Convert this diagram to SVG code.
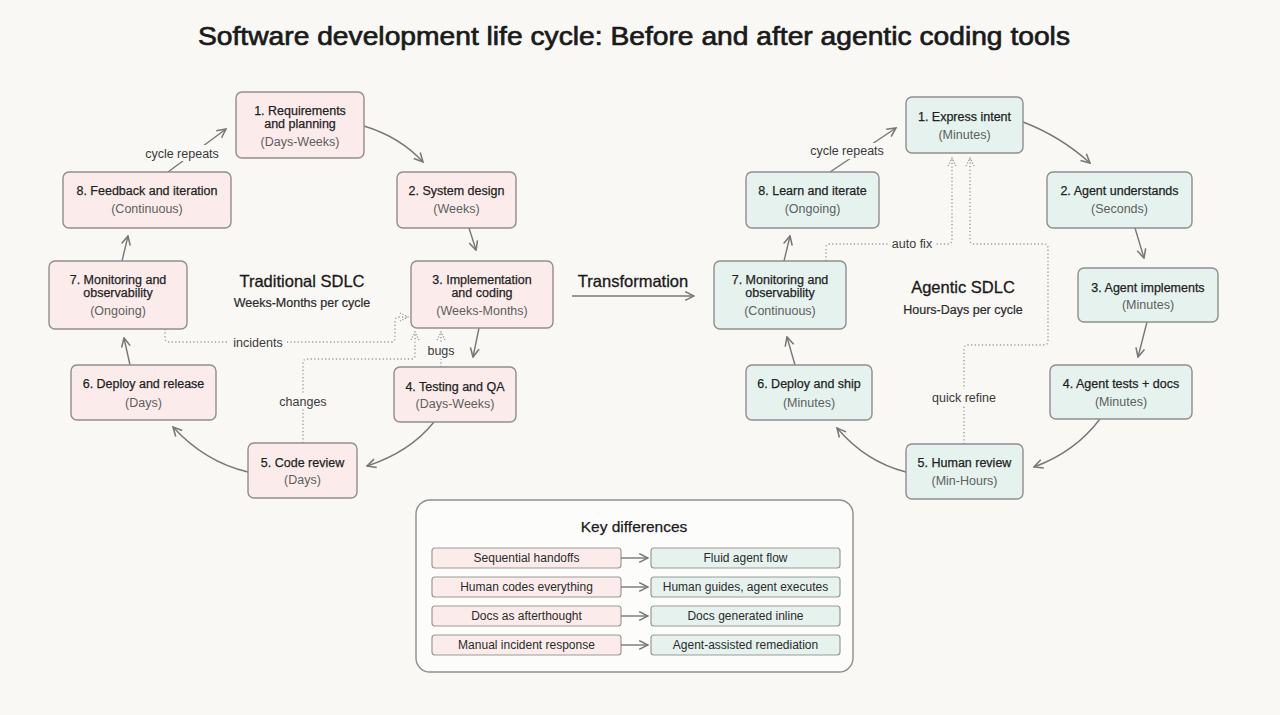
<svg xmlns="http://www.w3.org/2000/svg" width="1280" height="715" viewBox="0 0 1280 715">
<defs>
<style>
text{font-family:"Liberation Sans",Arial,sans-serif;fill:#1f1f1f;text-anchor:middle}
.title{font-size:26px;fill:#1a1a1a;stroke:#1a1a1a;stroke-width:0.7}
.nt{font-size:12.5px;fill:#1f1f1f;stroke:#1f1f1f;stroke-width:0.25}
.ns{font-size:12.5px;fill:#5e5e5e}
.lt{fill:#fbeceb;stroke:#8e8e8e;stroke-width:1.4}
.rt{fill:#e5f2ee;stroke:#8e8e8e;stroke-width:1.4}
.sol{fill:none;stroke:#777;stroke-width:1.4}
.dot{fill:none;stroke:#9a9a9a;stroke-width:1.4;stroke-dasharray:1.2 2.4}
.lbl{font-size:12.5px;fill:#3a3a3a}
.bg{fill:#f9f8f5}
.big{font-size:16.5px;fill:#1a1a1a;stroke:#1a1a1a;stroke-width:0.3}
.sub{font-size:12.5px;fill:#2a2a2a;stroke:#2a2a2a;stroke-width:0.2}
.kb{stroke:#999;stroke-width:1.2}
.kt{font-size:12px;fill:#2a2a2a}
</style>
<marker id="arr" viewBox="0 0 10 10" refX="9" refY="5" markerWidth="11" markerHeight="11" markerUnits="userSpaceOnUse" orient="auto">
<path d="M1,1 L9,5 L1,9" fill="none" stroke="#777" stroke-width="1.4"/>
</marker>
<marker id="arrd" viewBox="0 0 10 10" refX="9" refY="5" markerWidth="10" markerHeight="10" markerUnits="userSpaceOnUse" orient="auto">
<path d="M1,1 L9,5 L1,9" fill="none" stroke="#9a9a9a" stroke-width="1.3" stroke-dasharray="1.2 1.6"/>
</marker>
</defs>
<rect width="1280" height="715" fill="#f9f8f5"/>
<text class="title" x="634" y="45" textLength="872" lengthAdjust="spacingAndGlyphs">Software development life cycle: Before and after agentic coding tools</text>

<g id="connectors">
<!-- left solid -->
<path class="sol" d="M364,126 Q400,137 423,162" marker-end="url(#arr)"/>
<path class="sol" d="M469,228 L476,250" marker-end="url(#arr)"/>
<path class="sol" d="M479,328 L473,357" marker-end="url(#arr)"/>
<path class="sol" d="M434,422 Q410,452 367,466" marker-end="url(#arr)"/>
<path class="sol" d="M248,472 Q205,462 173,427" marker-end="url(#arr)"/>
<path class="sol" d="M130,365 L124,338" marker-end="url(#arr)"/>
<path class="sol" d="M122,261 L128,236" marker-end="url(#arr)"/>
<path class="sol" d="M168,172 L226,129" marker-end="url(#arr)"/>
<!-- left dotted -->
<path class="dot" d="M165,329 V338 Q165,342 169,342 H391 Q395,342 395,338 V321 Q395,317 399,317 H408" marker-end="url(#arrd)"/>
<path class="dot" d="M303,443 V363 Q303,359 307,359 H411 Q415,359 415,355 V332" marker-end="url(#arrd)"/>
<path class="dot" d="M441,367 V332" marker-end="url(#arrd)"/>
<!-- transformation -->
<path class="sol" d="M572,296 H694" marker-end="url(#arr)"/>
<!-- right solid -->
<path class="sol" d="M1023,122 Q1060,136 1090,163" marker-end="url(#arr)"/>
<path class="sol" d="M1135,228 L1144,258" marker-end="url(#arr)"/>
<path class="sol" d="M1147,322 L1138,357" marker-end="url(#arr)"/>
<path class="sol" d="M1100,419 Q1075,452 1034,467" marker-end="url(#arr)"/>
<path class="sol" d="M906,472 Q866,462 837,428" marker-end="url(#arr)"/>
<path class="sol" d="M795,365 L787,337" marker-end="url(#arr)"/>
<path class="sol" d="M784,261 L790,236" marker-end="url(#arr)"/>
<path class="sol" d="M830,172 L896,128" marker-end="url(#arr)"/>
<!-- right dotted -->
<path class="dot" d="M826,261 V248 Q826,244 830,244 H948 Q952,244 952,240 V158" marker-end="url(#arrd)"/>
<path class="dot" d="M964,444 V349 Q964,345 968,345 H1044 Q1048,345 1048,341 V248 Q1048,244 1044,244 H974 Q970,244 970,240 V158" marker-end="url(#arrd)"/>
<!-- labels -->
<rect class="bg" x="141" y="145" width="82" height="16"/>
<text class="lbl" x="182" y="157.5">cycle repeats</text>
<rect class="bg" x="229" y="335" width="58" height="15"/>
<text class="lbl" x="258" y="346.5">incidents</text>
<rect class="bg" x="277" y="393" width="52" height="16"/>
<text class="lbl" x="303" y="405.5">changes</text>
<rect class="bg" x="426" y="343" width="30" height="16"/>
<text class="lbl" x="441" y="354.5">bugs</text>
<rect class="bg" x="805" y="143" width="84" height="16"/>
<text class="lbl" x="847" y="155">cycle repeats</text>
<rect class="bg" x="888" y="237" width="48" height="15"/>
<text class="lbl" x="912" y="248">auto fix</text>
<rect class="bg" x="927" y="389" width="74" height="16"/>
<text class="lbl" x="964" y="401.5">quick refine</text>
</g>

<text class="big" x="302" y="287">Traditional SDLC</text>
<text class="sub" x="302" y="306.5">Weeks-Months per cycle</text>
<text class="big" x="633" y="287">Transformation</text>
<text class="big" x="963" y="293">Agentic SDLC</text>
<text class="sub" x="963" y="313.5">Hours-Days per cycle</text>

<g id="l1"><rect class="lt" x="236" y="92" width="128" height="66" rx="6"/>
<text class="nt" x="300" y="114.5">1. Requirements</text><text class="nt" x="300" y="127.5">and planning</text><text class="ns" x="300" y="146">(Days-Weeks)</text></g>
<g id="l2"><rect class="lt" x="397" y="172" width="119" height="56" rx="6"/>
<text class="nt" x="456.5" y="194.5">2. System design</text><text class="ns" x="456.5" y="212.5">(Weeks)</text></g>
<g id="l3"><rect class="lt" x="411" y="261" width="142" height="67" rx="6"/>
<text class="nt" x="482" y="283.5">3. Implementation</text><text class="nt" x="482" y="296.5">and coding</text><text class="ns" x="482" y="314.5">(Weeks-Months)</text></g>
<g id="l4"><rect class="lt" x="394" y="367" width="122" height="55" rx="6"/>
<text class="nt" x="455" y="390.5">4. Testing and QA</text><text class="ns" x="455" y="407.5">(Days-Weeks)</text></g>
<g id="l5"><rect class="lt" x="248" y="443" width="109" height="55" rx="6"/>
<text class="nt" x="302.5" y="466.5">5. Code review</text><text class="ns" x="302.5" y="483.5">(Days)</text></g>
<g id="l6"><rect class="lt" x="71" y="365" width="145" height="55" rx="6"/>
<text class="nt" x="143.5" y="387.5">6. Deploy and release</text><text class="ns" x="143.5" y="406.5">(Days)</text></g>
<g id="l7"><rect class="lt" x="49" y="261" width="138" height="68" rx="6"/>
<text class="nt" x="118" y="283.5">7. Monitoring and</text><text class="nt" x="118" y="296.5">observability</text><text class="ns" x="118" y="314.5">(Ongoing)</text></g>
<g id="l8"><rect class="lt" x="63" y="172" width="168" height="56" rx="6"/>
<text class="nt" x="147" y="194.5">8. Feedback and iteration</text><text class="ns" x="147" y="212.5">(Continuous)</text></g>

<g id="r1"><rect class="rt" x="906" y="97" width="117" height="56" rx="6"/>
<text class="nt" x="964.5" y="120.5">1. Express intent</text><text class="ns" x="964.5" y="138.5">(Minutes)</text></g>
<g id="r2"><rect class="rt" x="1047" y="172" width="145" height="56" rx="6"/>
<text class="nt" x="1119.5" y="194.5">2. Agent understands</text><text class="ns" x="1119.5" y="212.5">(Seconds)</text></g>
<g id="r3"><rect class="rt" x="1078" y="268" width="140" height="54" rx="6"/>
<text class="nt" x="1148" y="291.5">3. Agent implements</text><text class="ns" x="1148" y="308.5">(Minutes)</text></g>
<g id="r4"><rect class="rt" x="1050" y="365" width="142" height="54" rx="6"/>
<text class="nt" x="1121" y="387.5">4. Agent tests + docs</text><text class="ns" x="1121" y="405.5">(Minutes)</text></g>
<g id="r5"><rect class="rt" x="906" y="444" width="117" height="55" rx="6"/>
<text class="nt" x="964.5" y="466.5">5. Human review</text><text class="ns" x="964.5" y="484.5">(Min-Hours)</text></g>
<g id="r6"><rect class="rt" x="746" y="365" width="126" height="55" rx="6"/>
<text class="nt" x="809" y="387.5">6. Deploy and ship</text><text class="ns" x="809" y="406.5">(Minutes)</text></g>
<g id="r7"><rect class="rt" x="714" y="261" width="132" height="68" rx="6"/>
<text class="nt" x="780" y="283.5">7. Monitoring and</text><text class="nt" x="780" y="296.5">observability</text><text class="ns" x="780" y="314.5">(Continuous)</text></g>
<g id="r8"><rect class="rt" x="746" y="172" width="133" height="56" rx="6"/>
<text class="nt" x="812.5" y="194.5">8. Learn and iterate</text><text class="ns" x="812.5" y="212.5">(Ongoing)</text></g>

<g id="key">
<rect x="416" y="500" width="437" height="172" rx="14" fill="#fcfcfa" stroke="#8e8e8e" stroke-width="1.4"/>
<text x="634" y="532" style="font-size:15.5px;fill:#1a1a1a;stroke:#1a1a1a;stroke-width:0.25">Key differences</text>
<g id="k1"><rect class="kb" x="432" y="548" width="189" height="20" rx="3" fill="#fbeceb"/><text class="kt" x="526.5" y="562.3">Sequential handoffs</text>
<path class="sol" d="M621,558 H648" marker-end="url(#arr)"/>
<rect class="kb" x="651" y="548" width="189" height="20" rx="3" fill="#e5f2ee"/><text class="kt" x="745.5" y="562.3">Fluid agent flow</text></g>
<g id="k2"><rect class="kb" x="432" y="577" width="189" height="20" rx="3" fill="#fbeceb"/><text class="kt" x="526.5" y="591.3">Human codes everything</text>
<path class="sol" d="M621,587 H648" marker-end="url(#arr)"/>
<rect class="kb" x="651" y="577" width="189" height="20" rx="3" fill="#e5f2ee"/><text class="kt" x="745.5" y="591.3">Human guides, agent executes</text></g>
<g id="k3"><rect class="kb" x="432" y="606" width="189" height="20" rx="3" fill="#fbeceb"/><text class="kt" x="526.5" y="620.3">Docs as afterthought</text>
<path class="sol" d="M621,616 H648" marker-end="url(#arr)"/>
<rect class="kb" x="651" y="606" width="189" height="20" rx="3" fill="#e5f2ee"/><text class="kt" x="745.5" y="620.3">Docs generated inline</text></g>
<g id="k4"><rect class="kb" x="432" y="635" width="189" height="20" rx="3" fill="#fbeceb"/><text class="kt" x="526.5" y="649.3">Manual incident response</text>
<path class="sol" d="M621,645 H648" marker-end="url(#arr)"/>
<rect class="kb" x="651" y="635" width="189" height="20" rx="3" fill="#e5f2ee"/><text class="kt" x="745.5" y="649.3">Agent-assisted remediation</text></g>
</g>
</svg>
